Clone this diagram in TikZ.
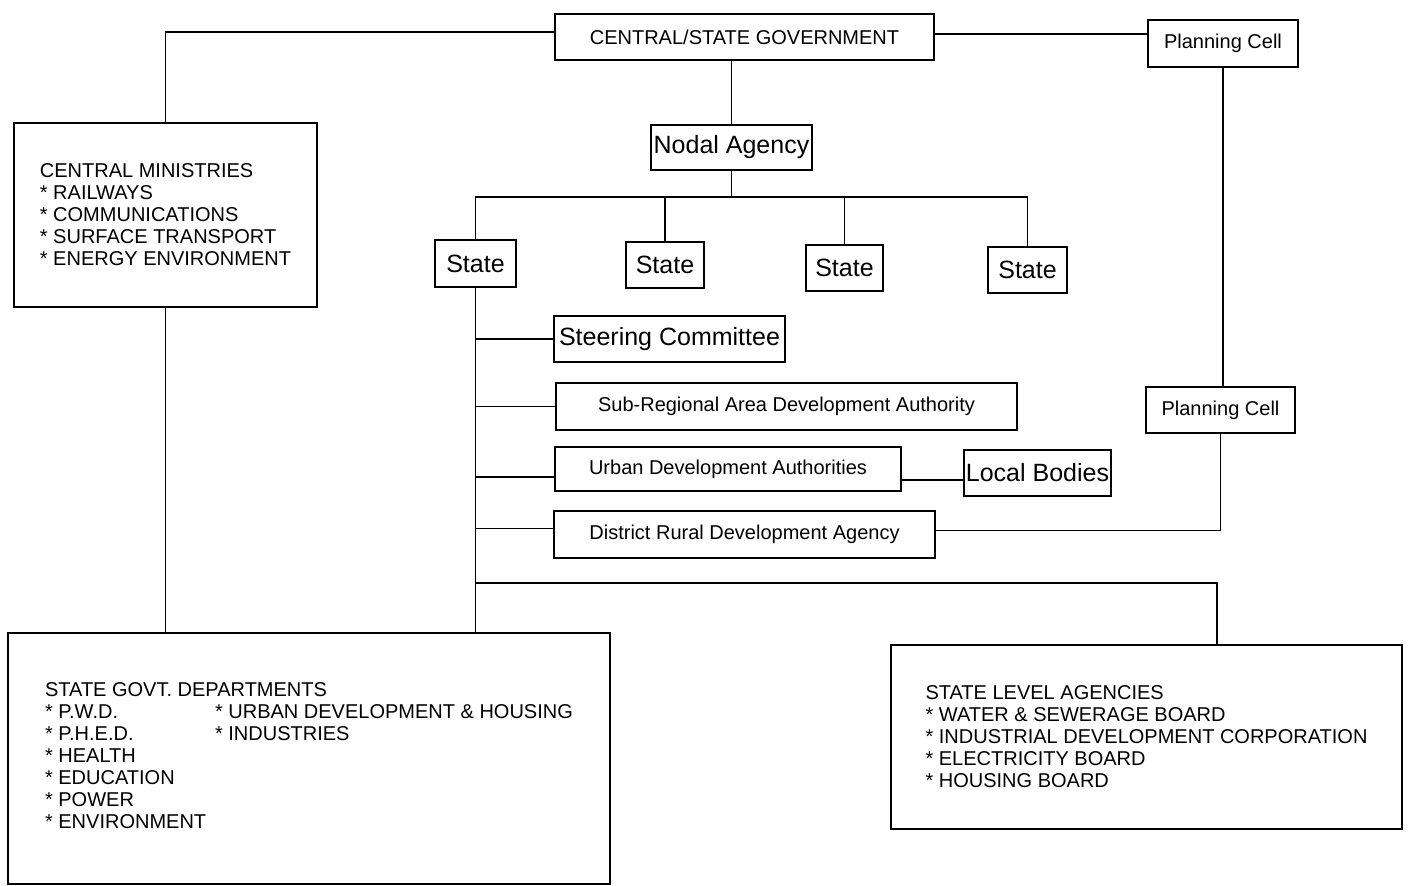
\documentclass[tikz,border=0pt]{standalone}
\usepackage{fontspec}
\setmainfont{Liberation Sans}
\begin{document}
\begin{tikzpicture}[x=1pt,y=-1pt,
  line width=1.8pt,
  box/.style={draw,rectangle,inner sep=0pt,font=\fontsize{20}{22}\selectfont},
  bigbox/.style={box,font=\fontsize{25}{28}\selectfont},
  listbox/.style={box,align=left},
  wire/.style={line width=1.8pt}]
\useasboundingbox (0,0) rectangle (1408,886);
\fill[white] (0,0) rectangle (1408,886);

% top level
\node[box,minimum width=379pt,minimum height=46pt] (gov) at (744.5,37) {CENTRAL/STATE GOVERNMENT};
\node[box,minimum width=150pt,minimum height=47pt] (pc1) at (1223,43.5) {Planning Cell};
\node[listbox,minimum width=303pt,minimum height=184pt] (cm) at (165.5,215)
  {CENTRAL MINISTRIES\\* RAILWAYS\\* COMMUNICATIONS\\* SURFACE TRANSPORT\\* ENERGY ENVIRONMENT};
\node[bigbox,minimum width=161pt,minimum height=45pt] (nodal) at (731.5,147.5) {Nodal Agency};

% states
\node[bigbox,minimum width=81pt,minimum height=47pt] (s1) at (475.5,263.5) {State};
\node[bigbox,minimum width=78pt,minimum height=46pt] (s2) at (665,265) {State};
\node[bigbox,minimum width=77pt,minimum height=46pt] (s3) at (844.5,268) {State};
\node[bigbox,minimum width=79pt,minimum height=46pt] (s4) at (1027.5,270) {State};

% state level bodies
\node[bigbox,minimum width=231pt,minimum height=46pt] (steer) at (669.5,339) {Steering Committee};
\node[box,minimum width=461pt,minimum height=47pt] (sub) at (786.5,406.5) {Sub-Regional Area Development Authority};
\node[box,minimum width=346pt,minimum height=44pt] (urban) at (728,469) {Urban Development Authorities};
\node[bigbox,minimum width=147pt,minimum height=46pt] (local) at (1037.5,473) {Local Bodies};
\node[box,minimum width=381pt,minimum height=47pt] (drda) at (744.5,534.5) {District Rural Development Agency};
\node[box,minimum width=149pt,minimum height=46pt] (pc2) at (1220.5,410) {Planning Cell};

% departments and agencies
\node[listbox,minimum width=602pt,minimum height=251pt] (sgd) at (309,758.5)
  {\begin{tabular}{@{}p{170pt}@{}l@{}}
   \multicolumn{2}{@{}l@{}}{STATE GOVT. DEPARTMENTS}\\
   {*} P.W.D. & {*} URBAN DEVELOPMENT \& HOUSING\\
   {*} P.H.E.D. & {*} INDUSTRIES\\
   {*} HEALTH & \\
   {*} EDUCATION & \\
   {*} POWER & \\
   {*} ENVIRONMENT &
   \end{tabular}};
\node[listbox,minimum width=511pt,minimum height=184pt] (sla) at (1146.5,737)
  {STATE LEVEL AGENCIES\\* WATER \& SEWERAGE BOARD\\* INDUSTRIAL DEVELOPMENT CORPORATION\\* ELECTRICITY BOARD\\* HOUSING BOARD};

% junction points
\coordinate (bus) at (731.5,197);
\coordinate (lowbus) at (475.5,583);
\coordinate (slatop) at (1217,645);
\coordinate (govw) at ([yshift=5pt]gov.west);
\coordinate (gove) at ([yshift=3pt]gov.east);
\coordinate (urbw) at ([yshift=-8pt]urban.west);
\coordinate (urbe) at ([yshift=-11pt]urban.east);
\coordinate (drdaw) at ([yshift=6pt]drda.west);
\coordinate (drdae) at ([yshift=4pt]drda.east);

% connectors
\draw[wire] (govw) -| (cm.north);
\draw[wire] (cm.south) -- (cm.south |- sgd.north);
\draw[wire] (gove) -- (gove -| pc1.west);
\draw[wire] (nodal.north |- gov.south) -- (nodal.north);
\draw[wire] (nodal.south) -- (bus);
\draw[wire] (s1.north) |- (bus);
\draw[wire] (s4.north) |- (bus);
\draw[wire] (s2.north) -- (s2.north |- bus);
\draw[wire] (s3.north) -- (s3.north |- bus);
\draw[wire] (s1.south) -- (s1.south |- sgd.north);
\draw[wire] (s1.south |- steer.west) -- (steer.west);
\draw[wire] (s1.south |- sub.west) -- (sub.west);
\draw[wire] (s1.south |- urbw) -- (urbw);
\draw[wire] (s1.south |- drdaw) -- (drdaw);
\draw[wire] (urbe) -- (urbe -| local.west);
\draw[wire] (drdae) -| (pc2.south);
\draw[wire] (pc1.south) -- (pc1.south |- pc2.north);
\draw[wire] (lowbus) -| (slatop);
\end{tikzpicture}
\end{document}
